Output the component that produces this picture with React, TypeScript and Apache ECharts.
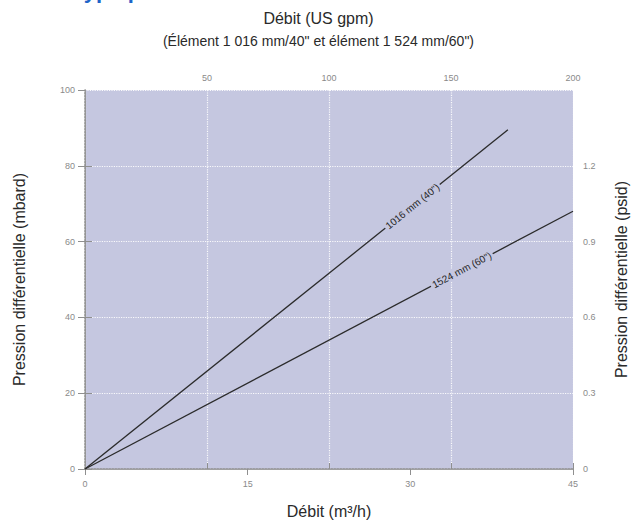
import React, { useEffect, useRef } from "react";
import * as echarts from "echarts";

const flowTicksM3h = [0, 15, 30, 45];
const flowTicksGpm = [0, 50, 100, 150, 200];
const mbarTicks = [0, 20, 40, 60, 80, 100];
const psidTicks = [0, 0.3, 0.6, 0.9, 1.2, 1.5];

const seriesNames = ['1016 mm (40")', '1524 mm (60")'];
const line1016 = [
  [0, 0],
  [39, 89.5],
];
const line1524 = [
  [0, 0],
  [45, 68],
];
const labelAtFlow = [30.2, 34.75];

const BG = "#c5c7e0";
const FONT = "'Liberation Sans', 'DejaVu Sans', sans-serif";

function yOnLine(line: number[][], x: number) {
  const [a, b] = [line[0], line[line.length - 1]];
  return a[1] + ((b[1] - a[1]) * (x - a[0])) / (b[0] - a[0]);
}

export default function App() {
  const ref = useRef<HTMLDivElement>(null);
  useEffect(() => {
    document.body.style.margin = "0";
    const chart = echarts.init(ref.current!, null, { renderer: "svg" });
    const lines = [line1016, line1524];
    const tickLabel = { color: "#8a8a8a", fontSize: 9, fontFamily: FONT };
    const baseSeries = lines.map((d, i) => ({
      name: seriesNames[i],
      type: "line",
      xAxisIndex: 0,
      yAxisIndex: 0,
      data: d,
      symbol: "none",
      lineStyle: { color: "#2b2b2b", width: 1.3 },
      z: 3,
    }));
    const option: any = {
      animation: false,
      title: {
        text: "Débit (US gpm)",
        subtext: '(Élément 1 016 mm/40" et élément 1 524 mm/60")',
        left: "center",
        top: 5,
        itemGap: 8,
        textStyle: { fontSize: 16, fontWeight: "normal", color: "#2a2a2a", fontFamily: FONT },
        subtextStyle: { fontSize: 14, color: "#2a2a2a", fontFamily: FONT },
      },
      graphic: [
        {
          type: "text",
          x: 72,
          y: -21,
          style: {
            text: "Type pression",
            fill: "#1e64c8",
            font: "bold 22px " + FONT,
          },
        },
      ],
      grid: {
        left: 85,
        right: 60,
        top: 90,
        bottom: 51,
        show: true,
        backgroundColor: BG,
        borderWidth: 0,
      },
      xAxis: [
        {
          type: "value",
          position: "bottom",
          min: flowTicksM3h[0],
          max: flowTicksM3h[flowTicksM3h.length - 1],
          interval: 15,
          axisLine: { show: true, lineStyle: { color: "#8f8f8f", type: "dotted", width: 1.5 } },
          axisTick: { show: true, length: 6, lineStyle: { color: "#8f8f8f" } },
          axisLabel: { ...tickLabel, margin: 10 },
          splitLine: { show: false },
          name: "Débit (m³/h)",
          nameLocation: "middle",
          nameGap: 34,
          nameTextStyle: { fontSize: 16, color: "#2a2a2a", fontFamily: FONT },
        },
        {
          type: "value",
          position: "top",
          min: flowTicksGpm[0],
          max: flowTicksGpm[flowTicksGpm.length - 1],
          interval: 50,
          axisLine: { show: true, lineStyle: { color: "#a0a0a0" } },
          axisTick: { show: true, length: 6, lineStyle: { color: "#8f8f8f" } },
          axisLabel: { ...tickLabel, margin: 8, showMinLabel: false },
          splitLine: { show: true, lineStyle: { color: "#ffffff", type: "dotted", width: 1.2, opacity: 0.9 } },
        },
      ],
      yAxis: [
        {
          type: "value",
          position: "left",
          min: mbarTicks[0],
          max: mbarTicks[mbarTicks.length - 1],
          interval: 20,
          axisLine: { show: true, lineStyle: { color: "#a0a0a0" } },
          axisTick: { show: true, length: 7, lineStyle: { color: "#8f8f8f" } },
          axisLabel: { ...tickLabel, margin: 10 },
          splitLine: { show: true, lineStyle: { color: "#ffffff", type: "dotted", width: 1.2, opacity: 0.9 } },
          name: "Pression différentielle (mbard)",
          nameLocation: "middle",
          nameRotate: 90,
          nameGap: 58,
          nameTextStyle: { fontSize: 16, color: "#2a2a2a", fontFamily: FONT },
        },
        {
          type: "value",
          position: "right",
          min: psidTicks[0],
          max: psidTicks[psidTicks.length - 1],
          interval: 0.3,
          axisLine: { show: true, lineStyle: { color: "#8f8f8f", type: "dotted", width: 1.5 } },
          axisTick: { show: true, length: 7, lineStyle: { color: "#8f8f8f" } },
          axisLabel: {
            ...tickLabel,
            margin: 10,
            showMaxLabel: false,
            formatter: (v: number) => (v === 0 ? "0" : v.toFixed(1)),
          },
          splitLine: { show: false },
          name: "Pression différentielle (psid)",
          nameLocation: "middle",
          nameRotate: 90,
          nameGap: 40,
          nameTextStyle: { fontSize: 16, color: "#2a2a2a", fontFamily: FONT },
        },
      ],
      series: baseSeries,
    };
    chart.setOption(option);

    const series = lines.map((d, i) => {
      const p0 = chart.convertToPixel({ xAxisIndex: 0, yAxisIndex: 0 }, d[0]) as number[];
      const p1 = chart.convertToPixel({ xAxisIndex: 0, yAxisIndex: 0 }, d[d.length - 1]) as number[];
      const angle = (Math.atan2(p0[1] - p1[1], p1[0] - p0[0]) * 180) / Math.PI;
      const lx = labelAtFlow[i];
      return {
        ...baseSeries[i],
        markPoint: {
          symbol: "circle",
          symbolSize: 1,
          itemStyle: { color: "rgba(0,0,0,0)" },
          data: [
            {
              coord: [lx, yOnLine(d, lx)],
              label: {
                show: true,
                position: "inside",
                formatter: seriesNames[i],
                rotate: angle,
                fontSize: 10,
                color: "#262626",
                fontFamily: FONT,
                backgroundColor: BG,
                padding: [1, 2],
              },
            },
          ],
        },
      };
    });
    chart.setOption({ series });
    return () => chart.dispose();
  }, []);
  return (
    <div
      ref={ref}
      style={{ position: "absolute", left: 0, top: 0, width: 637, height: 524 }}
    />
  );
}
